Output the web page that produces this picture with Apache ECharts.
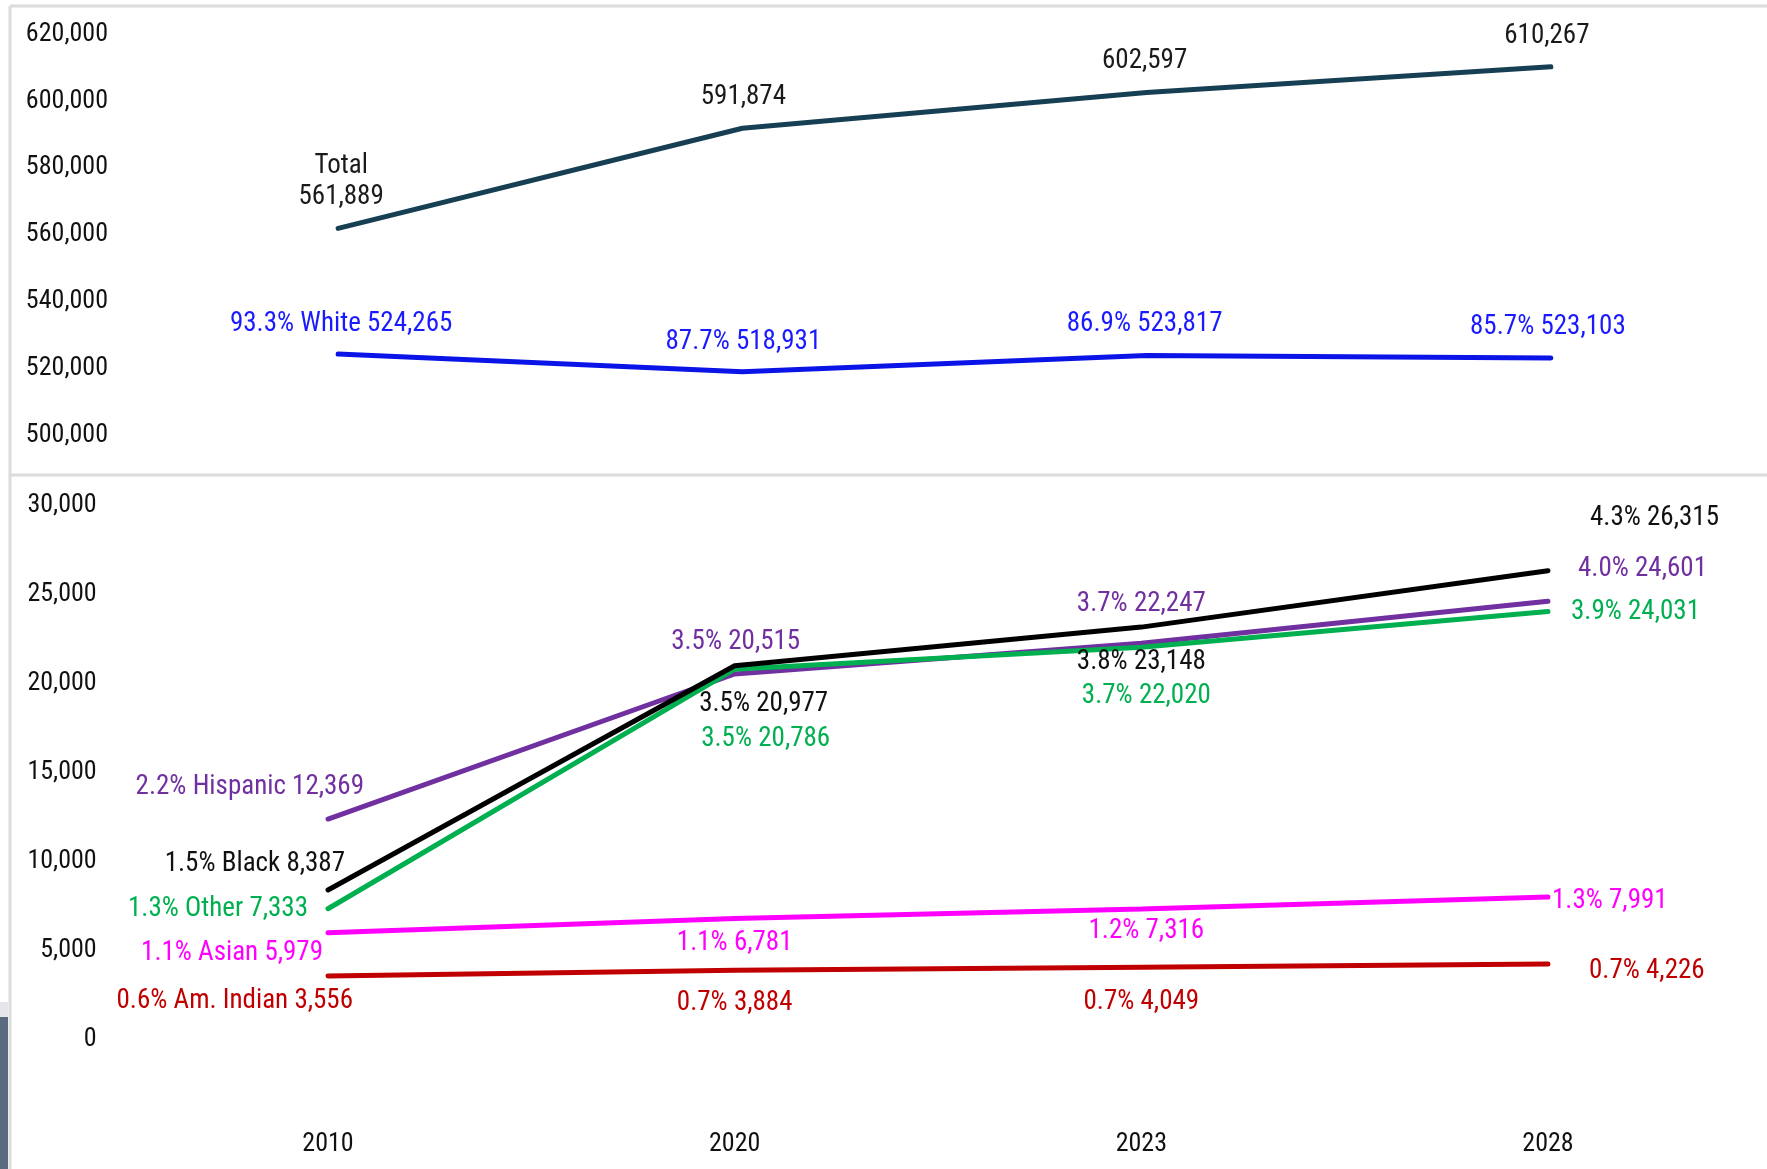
<!DOCTYPE html>
<html>
<head>
<meta charset="utf-8">
<script src="https://cdn.jsdelivr.net/npm/echarts@6/dist/echarts.min.js"></script>
<style>
html,body{margin:0;padding:0;background:#fff;}
#chart{width:1767px;height:1169px;}
</style>
</head>
<body>
<div id="chart"></div>
<script>
// ---- data ----
const years = ['2010', '2020', '2023', '2028'];
const yTopTicks = [500000, 520000, 540000, 560000, 580000, 600000, 620000];
const yBottomTicks = [0, 5000, 10000, 15000, 20000, 25000, 30000];

const totalValues = [561889, 591874, 602597, 610267];
const whiteValues = [524265, 518931, 523817, 523103];
const whitePct = [93.3, 87.7, 86.9, 85.7];
const hispanicValues = [12369, 20515, 22247, 24601];
const hispanicPct = [2.2, 3.5, 3.7, 4.0];
const blackValues = [8387, 20977, 23148, 26315];
const blackPct = [1.5, 3.5, 3.8, 4.3];
const otherValues = [7333, 20786, 22020, 24031];
const otherPct = [1.3, 3.5, 3.7, 3.9];
const asianValues = [5979, 6781, 7316, 7991];
const asianPct = [1.1, 1.1, 1.2, 1.3];
const amIndianValues = [3556, 3884, 4049, 4226];
const amIndianPct = [0.6, 0.7, 0.7, 0.7];

// ---- label placement (style only) : [dx, dy, align] ----
const labelPlace = {
  total:    [[3, -47, 'center'], [1, -31, 'center'], [-2, -31, 'center'], [-4, -31, 'center']],
  white:    [[3, -30, 'center'], [1, -30, 'center'], [-2, -31, 'center'], [-3, -31, 'center']],
  hispanic: [[36, -32, 'right'], [1, -32, 'center'], [0, -39, 'center'], [30, -32, 'left']],
  black:    [[17, -26, 'right'], [29, 38, 'center'], [0, 35, 'center'], [42, -52, 'left']],
  other:    [[-20, 1, 'right'], [31, 70, 'center'], [5, 49, 'center'], [23, 1, 'left']],
  asian:    [[-5, 20, 'right'], [0, 25, 'center'], [5, 22, 'center'], [4, 4, 'left']],
  amIndian: [[25, 25, 'right'], [0, 33, 'center'], [0, 35, 'center'], [41, 7, 'left']]
};

const FONT = "'Roboto Condensed','Liberation Sans Narrow','Arial Narrow','DejaVu Sans Condensed',sans-serif";
const FS = 27;
const AXFS = 26;
const fmt = v => v.toLocaleString('en-US');

function buildData(values, place, color, textFn) {
  return values.map((v, i) => ({
    value: v,
    label: {
      show: true,
      position: 'inside',
      offset: [place[i][0], place[i][1]],
      align: place[i][2],
      verticalAlign: 'middle',
      color: color,
      fontFamily: FONT,
      fontSize: FS,
      lineHeight: 31,
      formatter: textFn(i)
    }
  }));
}

function ethSeries(name, values, pct, place, lineColor, textColor, xi, yi, z) {
  return {
    type: 'line',
    name: name,
    xAxisIndex: xi, yAxisIndex: yi,
    symbol: 'circle', symbolSize: 2,
    itemStyle: { color: lineColor },
    lineStyle: { color: lineColor, width: 5, cap: 'round' },
    z: z,
    animation: false,
    data: buildData(values, place, textColor, i =>
      i === 0 ? pct[i].toFixed(1) + '% ' + name + ' ' + fmt(values[i])
              : pct[i].toFixed(1) + '% ' + fmt(values[i]))
  };
}

const chart = echarts.init(document.getElementById('chart'), null, { renderer: 'canvas' });

const option = {
  backgroundColor: '#ffffff',
  animation: false,
  grid: [
    { left: 136, right: 14, top: 34.3, height: 400.8 },
    { left: 124.7, right: 15.7, top: 505.1, height: 534.2 }
  ],
  xAxis: [
    { type: 'category', gridIndex: 0, data: years, boundaryGap: true,
      axisLine: { show: false }, axisTick: { show: false }, axisLabel: { show: false }, splitLine: { show: false } },
    { type: 'category', gridIndex: 1, data: years, boundaryGap: true,
      axisLine: { show: false }, axisTick: { show: false }, splitLine: { show: false },
      axisLabel: { color: '#111', fontFamily: FONT, fontSize: AXFS, margin: 92 } }
  ],
  yAxis: [
    { type: 'value', gridIndex: 0,
      min: yTopTicks[0], max: yTopTicks[yTopTicks.length - 1], interval: yTopTicks[1] - yTopTicks[0],
      axisLine: { show: false }, axisTick: { show: false }, splitLine: { show: false },
      axisLabel: { color: '#111', fontFamily: FONT, fontSize: AXFS, margin: 28, formatter: v => fmt(v) } },
    { type: 'value', gridIndex: 1,
      min: yBottomTicks[0], max: yBottomTicks[yBottomTicks.length - 1], interval: yBottomTicks[1] - yBottomTicks[0],
      axisLine: { show: false }, axisTick: { show: false }, splitLine: { show: false },
      axisLabel: { color: '#111', fontFamily: FONT, fontSize: AXFS, margin: 28, formatter: v => fmt(v) } }
  ],
  graphic: [
    { type: 'line', shape: { x1: 10, y1: 6, x2: 1767, y2: 6 }, style: { stroke: '#dcdcdc', lineWidth: 3 }, silent: true },
    { type: 'line', shape: { x1: 10, y1: 6, x2: 10, y2: 1169 }, style: { stroke: '#dcdcdc', lineWidth: 3 }, silent: true },
    { type: 'line', shape: { x1: 10, y1: 475, x2: 1767, y2: 475 }, style: { stroke: '#dcdcdc', lineWidth: 3 }, silent: true },
    { type: 'rect', shape: { x: 0, y: 1002, width: 8, height: 15 }, style: { fill: '#e4e6e9' }, silent: true },
    { type: 'rect', shape: { x: 0, y: 1017, width: 8, height: 152 }, style: { fill: '#5a6b80' }, silent: true }
  ],
  series: [
    {
      type: 'line', name: 'Total', xAxisIndex: 0, yAxisIndex: 0,
      symbol: 'circle', symbolSize: 2,
      itemStyle: { color: '#173f53' },
      lineStyle: { color: '#173f53', width: 5, cap: 'round' },
      data: buildData(totalValues, labelPlace.total, '#1a1a1a', i =>
        i === 0 ? 'Total\n' + fmt(totalValues[i]) : fmt(totalValues[i]))
    },
    {
      type: 'line', name: 'White', xAxisIndex: 0, yAxisIndex: 0,
      symbol: 'circle', symbolSize: 2,
      itemStyle: { color: '#0a14e6' },
      lineStyle: { color: '#0a14e6', width: 5, cap: 'round' },
      data: buildData(whiteValues, labelPlace.white, '#1a1aff', i =>
        i === 0 ? whitePct[i].toFixed(1) + '% White ' + fmt(whiteValues[i])
                : whitePct[i].toFixed(1) + '% ' + fmt(whiteValues[i]))
    },
    ethSeries('Hispanic', hispanicValues, hispanicPct, labelPlace.hispanic, '#7030a0', '#7030a0', 1, 1, 2),
    ethSeries('Other', otherValues, otherPct, labelPlace.other, '#00b050', '#00b050', 1, 1, 3),
    ethSeries('Black', blackValues, blackPct, labelPlace.black, '#000000', '#111111', 1, 1, 4),
    ethSeries('Asian', asianValues, asianPct, labelPlace.asian, '#ff00ff', '#ff00ff', 1, 1, 2),
    ethSeries('Am. Indian', amIndianValues, amIndianPct, labelPlace.amIndian, '#c00000', '#c00000', 1, 1, 2)
  ]
};
chart.setOption(option);
</script>
</body>
</html>
